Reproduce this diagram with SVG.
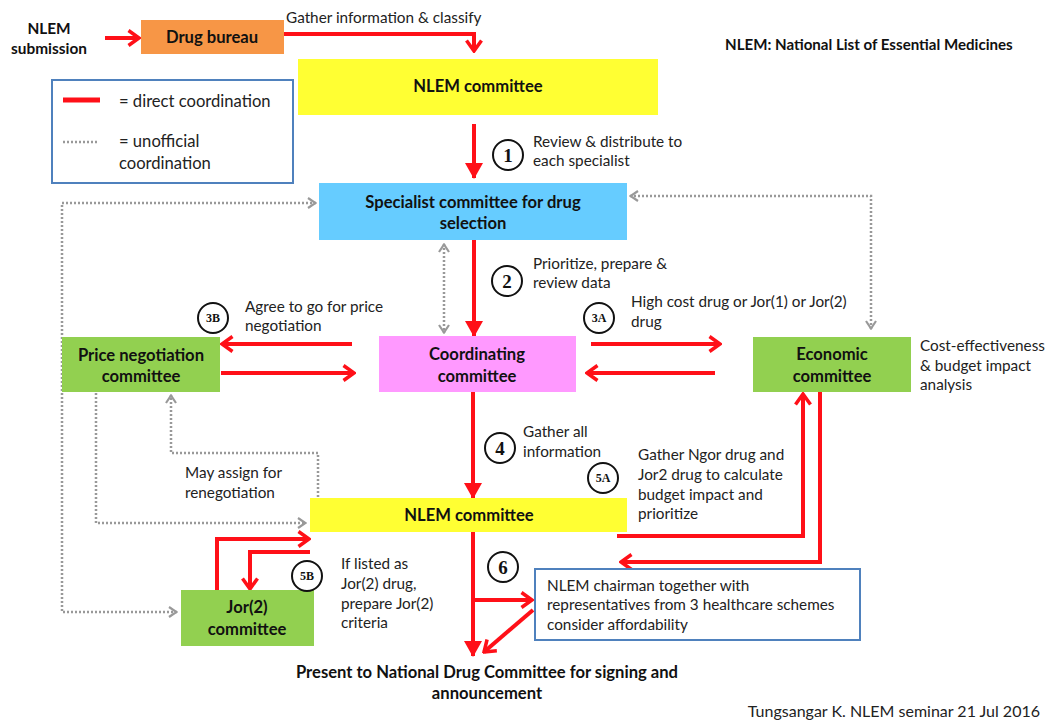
<svg xmlns="http://www.w3.org/2000/svg" width="1050" height="720" viewBox="0 0 1050 720">
<style>
.t{font-family:Lato,"Liberation Sans",sans-serif;font-size:15.3px;fill:#222}
.b{font-family:Lato,"Liberation Sans",sans-serif;font-size:16.6px;font-weight:bold;fill:#111;text-anchor:middle}
.lg{font-family:Lato,"Liberation Sans",sans-serif;font-size:16.6px;fill:#222}
.r{fill:none;stroke:#FF1018;stroke-width:4}
.d{fill:none;stroke:#999;stroke-width:2.5;stroke-dasharray:2 2}
.c{fill:#fff;stroke:#111;stroke-width:2}
.n{font-family:"Liberation Serif",serif;font-weight:bold;font-size:19px;fill:#111;text-anchor:middle}
.ns{font-family:"Liberation Serif",serif;font-weight:bold;font-size:12px;fill:#111;text-anchor:middle}
</style>
<defs>
<marker id="ro" markerUnits="userSpaceOnUse" viewBox="0 0 14 18" refX="12" refY="9" markerWidth="14" markerHeight="18" orient="auto"><path d="M1.5,1.5 L12,9 L1.5,16.5" fill="none" stroke="#FF1018" stroke-width="3.5"/></marker>
<marker id="rf" markerUnits="userSpaceOnUse" viewBox="0 0 16 18" refX="15" refY="9" markerWidth="16" markerHeight="18" orient="auto"><path d="M0,0 L16,9 L0,18 Z" fill="#FF1018"/></marker>
<marker id="go" markerUnits="userSpaceOnUse" viewBox="0 0 10 12" refX="9" refY="6" markerWidth="10" markerHeight="12" orient="auto-start-reverse"><path d="M1,1 L8.5,6 L1,11" fill="none" stroke="#999" stroke-width="2.2"/></marker>
</defs>

<g id="connectors">
<path class="d" d="M316,203 L62,203 L62,612 L177,612" marker-start="url(#go)" marker-end="url(#go)"/>
<path class="d" d="M444,244 L444,333" marker-start="url(#go)" marker-end="url(#go)"/>
<path class="d" d="M630,196 L871,196 L871,329" marker-start="url(#go)" marker-end="url(#go)"/>
<path class="d" d="M96,393 L96,523 L306,523" marker-end="url(#go)"/>
<path class="d" d="M318,497 L318,453 L171,453 L171,395" marker-end="url(#go)"/>
<path class="r" d="M105,38 L139,38" marker-end="url(#ro)"/>
<path class="r" d="M284,34 L474,34 L474,51" marker-end="url(#ro)"/>
<path class="r" d="M474,124 L474,178" marker-end="url(#rf)"/>
<path class="r" d="M474,240 L474,336" marker-end="url(#rf)"/>
<path class="r" d="M352,344 L222,344" marker-end="url(#ro)"/>
<path class="r" d="M221,373 L354,373" marker-end="url(#ro)"/>
<path class="r" d="M591,344 L720,344" marker-end="url(#ro)"/>
<path class="r" d="M715,373 L587,373" marker-end="url(#ro)"/>
<path class="r" d="M473,392 L473,498" marker-end="url(#rf)"/>
<path class="r" d="M617,536 L803,536 L803,394" marker-end="url(#ro)"/>
<path class="r" d="M820,392 L820,562 L621,562" marker-end="url(#ro)"/>
<path class="r" d="M217,590 L217,539 L309,539" marker-end="url(#ro)"/>
<path class="r" d="M310,552 L250,552 L250,589" marker-end="url(#ro)"/>
<path class="r" d="M473,532 L473,656" marker-end="url(#rf)"/>
<path class="r" d="M473,600 L532,600" marker-end="url(#ro)"/>
<path class="r" d="M533,610 L484,652" marker-end="url(#ro)"/>
</g>

<g id="header"><text x="725" y="50" style="font-family:Lato,'Liberation Sans',sans-serif;font-size:15.1px;font-weight:bold;fill:#111">NLEM: National List of Essential Medicines</text></g>

<g id="submission"><text class="b" x="49" y="34" style="font-size:15.4px">NLEM</text><text class="b" x="49" y="54" style="font-size:15.4px">submission</text></g>

<g id="drug-bureau"><rect x="141" y="20" width="143" height="34" fill="#F79646"/><text class="b" x="212" y="43">Drug bureau</text></g>
<text class="t" x="286" y="23">Gather information &amp; classify</text>

<g id="nlem-top"><rect x="298" y="59" width="360" height="56" fill="#FFFF33"/><text class="b" x="478" y="92">NLEM committee</text></g>

<g id="legend"><rect x="52" y="80" width="241" height="103" fill="#fff" stroke="#4F81BD" stroke-width="2"/>
<line x1="63" y1="100" x2="100" y2="100" stroke="#FF1018" stroke-width="5"/>
<line x1="63" y1="142" x2="99" y2="142" class="d"/>
<text class="lg" x="119" y="107">= direct coordination</text>
<text class="lg" x="119" y="147">= unofficial</text>
<text class="lg" x="119" y="169">coordination</text></g>

<g id="step1"><circle class="c" cx="508" cy="155" r="15"/><text class="n" x="508" y="162">1</text>
<text class="t" x="533" y="147">Review &amp; distribute to</text><text class="t" x="533" y="166">each specialist</text></g>

<g id="specialist"><rect x="319" y="183" width="308" height="57" fill="#66CCFF"/><text class="b" x="473" y="208">Specialist committee for drug</text><text class="b" x="473" y="229">selection</text></g>

<g id="step2"><circle class="c" cx="507" cy="281" r="15"/><text class="n" x="507" y="288">2</text>
<text class="t" x="533" y="269">Prioritize, prepare &amp;</text><text class="t" x="533" y="288">review data</text></g>

<g id="price"><rect x="62" y="337" width="158" height="55" fill="#92D050"/><text class="b" x="141" y="361">Price negotiation</text><text class="b" x="141" y="382">committee</text></g>

<g id="step3b"><circle class="c" cx="213" cy="318" r="15"/><text class="ns" x="213" y="322">3B</text>
<text class="t" x="245" y="312">Agree to go for price</text><text class="t" x="245" y="331">negotiation</text></g>

<g id="coordinating"><rect x="379" y="336" width="197" height="56" fill="#FF99FF"/><text class="b" x="477" y="360">Coordinating</text><text class="b" x="477" y="382">committee</text></g>

<g id="step3a"><circle class="c" cx="599" cy="318" r="15"/><text class="ns" x="599" y="322">3A</text>
<text class="t" x="631" y="307">High cost drug or Jor(1) or Jor(2)</text><text class="t" x="631" y="327">drug</text></g>

<g id="economic"><rect x="753" y="337" width="158" height="55" fill="#92D050"/><text class="b" x="832" y="360">Economic</text><text class="b" x="832" y="382">committee</text></g>
<text class="t" x="920" y="351">Cost-effectiveness</text><text class="t" x="920" y="371">&amp; budget impact</text><text class="t" x="920" y="390">analysis</text>

<g id="step4"><circle class="c" cx="500" cy="448" r="15"/><text class="n" x="500" y="455">4</text>
<text class="t" x="523" y="437">Gather all</text><text class="t" x="523" y="457">information</text></g>

<g id="step5a"><circle class="c" cx="603" cy="478" r="15"/><text class="ns" x="603" y="482">5A</text>
<text class="t" x="638" y="460">Gather Ngor drug and</text><text class="t" x="638" y="480">Jor2 drug to calculate</text><text class="t" x="638" y="500">budget impact and</text><text class="t" x="638" y="519">prioritize</text></g>

<g id="nlem-mid"><rect x="310" y="498" width="317" height="34" fill="#FFFF33"/><text class="b" x="469" y="521">NLEM committee</text></g>

<text class="t" x="185" y="478">May assign for</text><text class="t" x="185" y="498">renegotiation</text>

<g id="jor2"><rect x="181" y="590" width="133" height="56" fill="#92D050"/><text class="b" x="247" y="613">Jor(2)</text><text class="b" x="247" y="635">committee</text></g>

<g id="step5b"><circle class="c" cx="307" cy="576" r="15"/><text class="ns" x="307" y="580">5B</text>
<text class="t" x="341" y="569">If listed as</text><text class="t" x="341" y="589">Jor(2) drug,</text><text class="t" x="341" y="609">prepare Jor(2)</text><text class="t" x="341" y="628">criteria</text></g>

<g id="step6"><circle class="c" cx="503" cy="567" r="15"/><text class="n" x="503" y="574">6</text></g>

<g id="chairman"><rect x="535" y="569" width="325" height="71" fill="#fff" stroke="#4F81BD" stroke-width="2"/>
<text class="t" x="547" y="591">NLEM chairman together with</text><text class="t" x="547" y="610">representatives from 3 healthcare schemes</text><text class="t" x="547" y="630">consider affordability</text></g>

<g id="present"><text class="b" x="487" y="678">Present to National Drug Committee for signing and</text><text class="b" x="487" y="699">announcement</text></g>

<text class="t" x="1040" y="717" style="text-anchor:end;font-size:16px">Tungsangar K. NLEM seminar 21 Jul 2016</text>
</svg>
